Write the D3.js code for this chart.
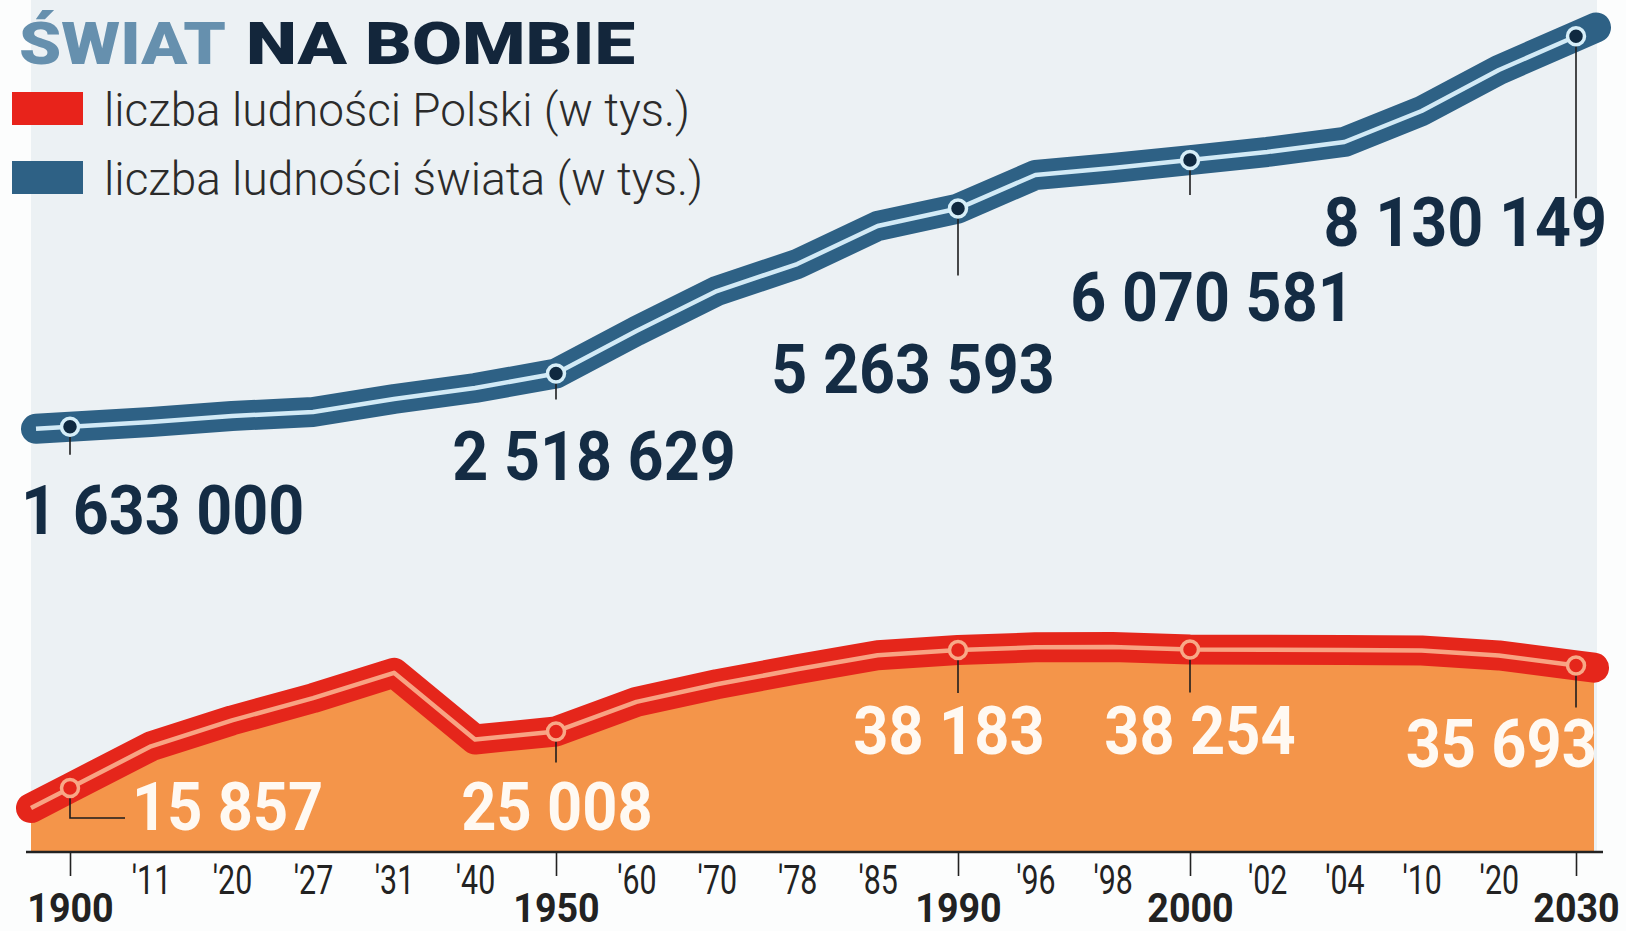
<!DOCTYPE html>
<html>
<head>
<meta charset="utf-8">
<title>Świat na bombie</title>
<style>
  body { margin: 0; background: #fff; }
  svg { display: block; font-family: Roboto, "Liberation Sans", sans-serif; }
  .tick text { fill: #222; }
</style>
</head>
<body>
<svg width="1626" height="931"></svg>
<script src="https://cdn.jsdelivr.net/npm/d3@7"></script>
<script>

// data (w tys.)
var years = [1900, 1911, 1920, 1927, 1931, 1940, 1950, 1960, 1970, 1978, 1985,
             1990, 1996, 1998, 2000, 2002, 2004, 2010, 2020, 2030];
var majorYears = [1900, 1950, 1990, 2000, 2030];
var worldPop = [1633000, 1713000, 1813000, 1880000, 2096000, 2279000, 2518629,
                3227000, 3892000, 4341000, 4974000, 5263593, 5822000, 5938000,
                6070581, 6205000, 6371000, 6887000, 7569000, 8130149];
var polandPop = [15857, 22600, 26800, 30400, 34500, 23700, 25008, 29795, 32642,
                 35061, 37341, 38183, 38618, 38667, 38254, 38230, 38174, 38100,
                 37300, 35693];
var titleParts = ["ŚWIAT", "NA BOMBIE"];
var legendLabels = ["liczba ludności Polski (w tys.)", "liczba ludności świata (w tys.)"];

var svg = d3.select("svg"),
    width = +svg.attr("width"),
    height = +svg.attr("height");

var axisY = 852;

// major years sit on hand-placed ticks, the rest spread evenly between them
var xi = d3.scaleLinear()
    .domain(majorYears.map(function(y) { return years.indexOf(y); }))
    .range([70, 556, 958, 1190, 1576]);
function x(yr) { return xi(years.indexOf(yr)); }

var yWorld = d3.scaleLinear().domain([0, 8500000]).range([525, 14]);
var yPoland = d3.scaleLinear().domain([0, 40000]).range([886, 638.8]);

var fmt = function(v) { return d3.format(",")(v).replace(/,/g, " "); };

function condense(sel, k) {
  sel.each(function() {
    var w = this.getComputedTextLength();
    d3.select(this).attr("textLength", w * k).attr("lengthAdjust", "spacingAndGlyphs");
  });
}

// pixel points, with the line run on a bit past both ends
function points(vals, yScale, padL, padR) {
  var p = years.map(function(yr, i) { return [x(yr), yScale(vals[i])]; });
  var a = p[0], b = p[1], n = p.length;
  var c = p[n - 2], d = p[n - 1];
  var left = [a[0] - padL, a[1] - (b[1] - a[1]) / (b[0] - a[0]) * padL];
  var right = [d[0] + padR, d[1] + (d[1] - c[1]) / (d[0] - c[0]) * padR];
  return [left].concat(p, [right]);
}

// backgrounds
svg.append("rect").attr("width", width).attr("height", height).attr("fill", "#fcfdfd");
svg.append("rect")
    .attr("x", 31).attr("y", 0)
    .attr("width", 1597 - 31).attr("height", axisY)
    .attr("fill", "#ecf1f4");

var line = d3.line().x(function(d) { return d[0]; }).y(function(d) { return d[1]; });

// Polska - area + line
var pPts = points(polandPop, yPoland, 39, 18);

svg.append("path")
    .datum(pPts)
    .attr("fill", "#f4954a")
    .attr("d", d3.area().x(function(d) { return d[0]; }).y0(axisY).y1(function(d) { return d[1]; }));

svg.append("path")
    .datum(pPts)
    .attr("fill", "none")
    .attr("stroke", "#e5261b")
    .attr("stroke-width", 30)
    .attr("stroke-linecap", "round")
    .attr("stroke-linejoin", "round")
    .attr("d", line);

svg.append("path")
    .datum(pPts.slice(0, -1))
    .attr("fill", "none")
    .attr("stroke", "#f8a383")
    .attr("stroke-width", 4.5)
    .attr("stroke-linejoin", "round")
    .attr("d", line);

// swiat - line
var wPts = points(worldPop, yWorld, 34, 20);

svg.append("path")
    .datum(wPts)
    .attr("fill", "none")
    .attr("stroke", "#2e6185")
    .attr("stroke-width", 30)
    .attr("stroke-linecap", "round")
    .attr("stroke-linejoin", "round")
    .attr("d", line);

svg.append("path")
    .datum(wPts.slice(0, -1))
    .attr("fill", "none")
    .attr("stroke", "#d2eaf6")
    .attr("stroke-width", 4.5)
    .attr("stroke-linejoin", "round")
    .attr("d", line);

// labels for the marked years
var worldLab = [
  { dx: -49, dy: 107, lead: 28, anchor: "start" },
  { dx: 38, dy: 106, lead: 26, anchor: "middle" },
  { dx: -45, dy: 184, lead: 67, anchor: "middle" },
  { dx: 22, dy: 161, lead: 35, anchor: "middle" },
  { dx: 31, dy: 210, lead: 162, anchor: "end" }
];
var polandLab = [
  { dx: 62, dy: 42, lead: 30, anchor: "start", elbow: 55 },
  { dx: 1, dy: 99, lead: 31, anchor: "middle" },
  { dx: -9, dy: 104, lead: 43, anchor: "middle" },
  { dx: 10, dy: 104, lead: 43, anchor: "middle" },
  { dx: 21, dy: 102, lead: 42, anchor: "end" }
];

function marks(vals, yScale, lab, opt) {
  var g = svg.append("g");
  var items = majorYears.map(function(yr, i) {
    var v = vals[years.indexOf(yr)];
    return { yr: yr, v: v, px: x(yr), py: yScale(v), l: lab[i] };
  });

  g.selectAll("path.lead")
    .data(items)
    .enter().append("path")
      .attr("class", "lead")
      .attr("fill", "none")
      .attr("stroke", "#1d1d1d")
      .attr("stroke-width", 1.6)
      .attr("d", function(d) {
        var s = "M" + d.px + "," + d.py + "V" + (d.py + d.l.lead);
        if (d.l.elbow) s += "H" + (d.px + d.l.elbow);
        return s;
      });

  g.selectAll("circle")
    .data(items)
    .enter().append("circle")
      .attr("cx", function(d) { return d.px; })
      .attr("cy", function(d) { return d.py; })
      .attr("r", 8.5)
      .attr("fill", opt.dot)
      .attr("stroke", opt.ring)
      .attr("stroke-width", 3.5);

  var t = g.selectAll("text")
    .data(items)
    .enter().append("text")
      .attr("x", function(d) { return d.px + d.l.dx; })
      .attr("y", function(d) { return d.py + d.l.dy; })
      .attr("text-anchor", function(d) { return d.l.anchor; })
      .attr("font-size", opt.size)
      .attr("font-weight", 700)
      .attr("fill", opt.text)
      .text(function(d) { return fmt(d.v); });
  condense(t, opt.k);
}

marks(worldPop, yWorld, worldLab, { dot: "#0f2940", ring: "#d6eef8", text: "#142c44", size: 69, k: 0.91 });
marks(polandPop, yPoland, polandLab, { dot: "#e5261b", ring: "#f8a887", text: "#fff9f2", size: 66, k: 0.93 });

// x axis
svg.append("line")
    .attr("x1", 26).attr("x2", 1603)
    .attr("y1", axisY).attr("y2", axisY)
    .attr("stroke", "#222")
    .attr("stroke-width", 2.5);

var axis = svg.append("g")
    .attr("transform", "translate(0," + axisY + ")")
    .call(d3.axisBottom(xi)
      .tickValues(d3.range(years.length))
      .tickSize(24)
      .tickFormat(function(i) {
        var yr = years[i];
        return majorYears.indexOf(yr) >= 0 ? yr : "'" + String(yr).slice(2);
      }));

axis.select(".domain").remove();
axis.selectAll(".tick line").attr("stroke", "#222").attr("stroke-width", 1.6);
axis.selectAll(".tick")
  .each(function(i) {
    var major = majorYears.indexOf(years[i]) >= 0;
    var tk = d3.select(this);
    if (!major) tk.select("line").remove();
    tk.select("text")
      .attr("y", major ? 70 : 42)
      .attr("dy", 0)
      .attr("font-family", "Roboto, sans-serif")
      .attr("font-size", major ? 40 : 41)
      .attr("font-weight", major ? 700 : 400);
  });
condense(axis.selectAll(".tick text").filter(function(i) { return majorYears.indexOf(years[i]) < 0; }), 0.74);
condense(axis.selectAll(".tick text").filter(function(i) { return majorYears.indexOf(years[i]) >= 0; }), 0.94);

// title
svg.append("text")
    .attr("x", 19).attr("y", 64)
    .attr("font-size", 60).attr("font-weight", 900)
    .attr("fill", "#6690ae")
    .attr("textLength", 207).attr("lengthAdjust", "spacingAndGlyphs")
    .text(titleParts[0]);
svg.append("text")
    .attr("x", 246).attr("y", 64)
    .attr("font-size", 60).attr("font-weight", 900)
    .attr("fill", "#13263b")
    .attr("textLength", 389).attr("lengthAdjust", "spacingAndGlyphs")
    .text(titleParts[1]);

// legend
var legend = svg.append("g").selectAll("g")
    .data(legendLabels)
    .enter().append("g")
      .attr("transform", function(d, i) { return "translate(0," + (i * 69) + ")"; });

legend.append("rect")
    .attr("x", 12).attr("y", 92)
    .attr("width", 71).attr("height", 33)
    .attr("fill", function(d, i) { return i == 0 ? "#e8231b" : "#2e6185"; });

legend.append("text")
    .attr("x", 104).attr("y", 126)
    .attr("font-size", 47).attr("font-weight", 300)
    .attr("fill", "#2b2b2b")
    .attr("textLength", function(d, i) { return i == 0 ? 586 : 599; })
    .attr("lengthAdjust", "spacingAndGlyphs")
    .text(function(d) { return d; });

</script>
</body>
</html>
